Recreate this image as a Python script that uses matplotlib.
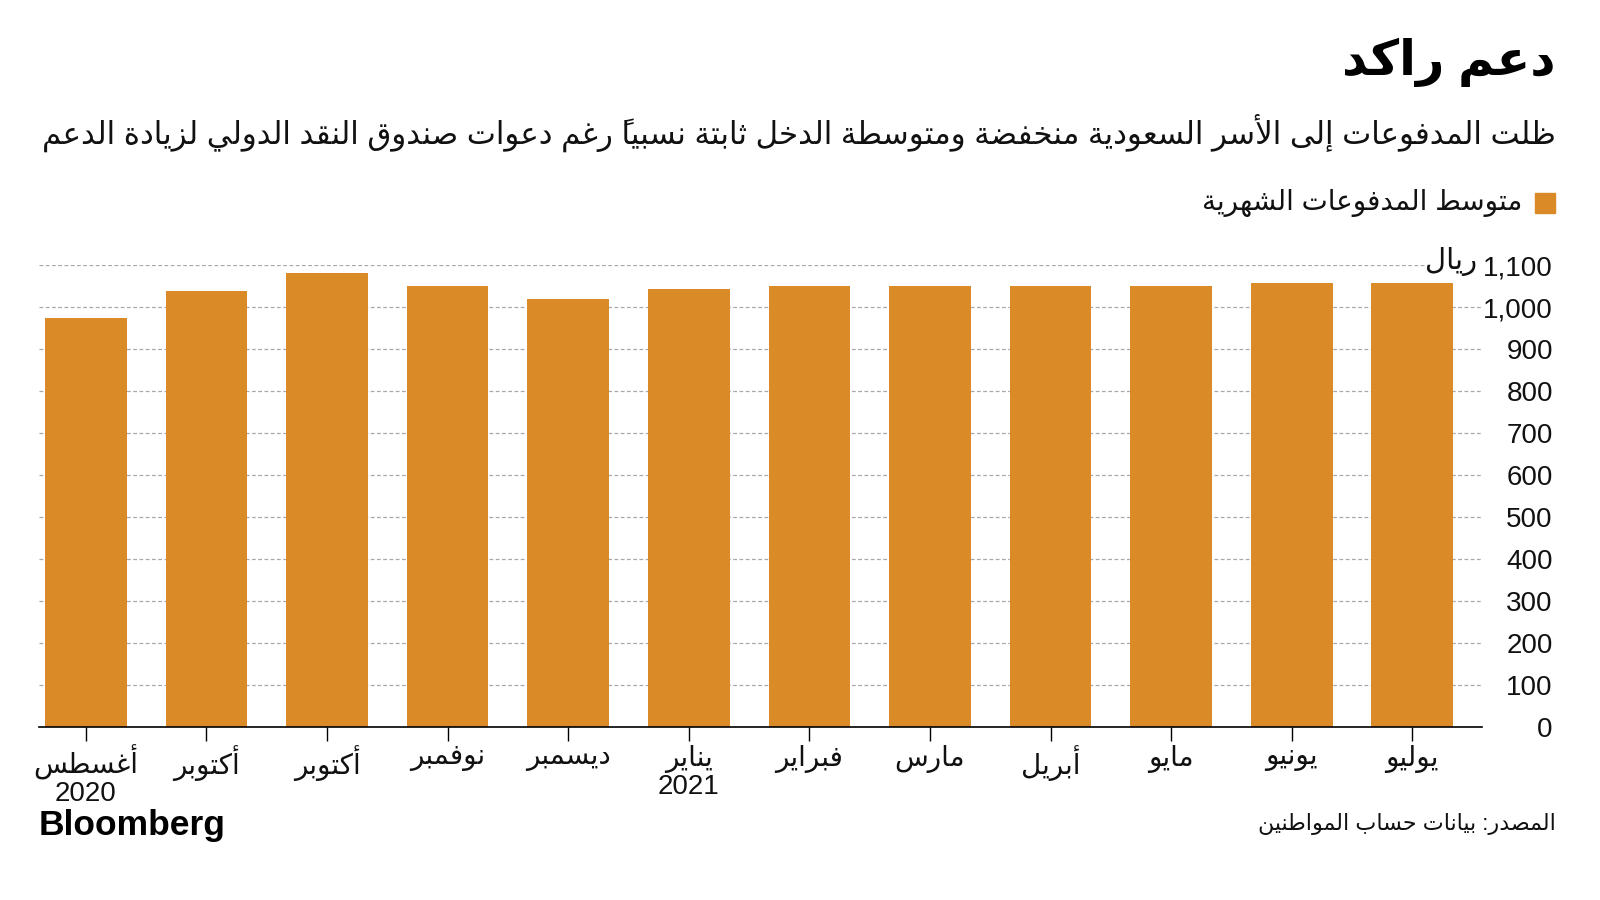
import matplotlib
matplotlib.use("Agg")
import matplotlib.pyplot as plt

# chart data
months = ['أغسطس\n2020', 'أكتوبر', 'أكتوبر', 'نوفمبر', 'ديسمبر', 'يناير\n2021',
          'فبراير', 'مارس', 'أبريل', 'مايو', 'يونيو', 'يوليو']
payments = [973, 1039, 1081, 1049, 1020, 1042, 1049, 1049, 1049, 1049, 1057, 1057]
yticks = [0, 100, 200, 300, 400, 500, 600, 700, 800, 900, 1000, 1100]

title = 'دعم راكد'
subtitle = 'ظلت المدفوعات إلى الأسر السعودية منخفضة ومتوسطة الدخل ثابتة نسبياً رغم دعوات صندوق النقد الدولي لزيادة الدعم'
legend_label = 'متوسط المدفوعات الشهرية'
unit = 'ريال'
source = 'المصدر: بيانات حساب المواطنين'

ORANGE = '#DA8A26'

# matplotlib has no arabic shaping, so map letters to presentation forms
# and reverse for right-to-left display
letters = 'ءآأؤإئابةتثجحخدذرزسشصضطظعغفقكلمنهوىي'
nforms = [1, 2, 2, 2, 2, 4, 2, 4, 2, 4, 4, 4, 4, 4, 2, 2, 2, 2,
          4, 4, 4, 4, 4, 4, 4, 4, 4, 4, 4, 4, 4, 4, 4, 2, 2, 4]
AR_FORMS = {}
code = 0xFE80
for ch, n in zip(letters, nforms):
    AR_FORMS[ch] = [chr(code + k) for k in range(n)]
    code += n
LAM_ALEF = {'آ': 0xFEF5, 'أ': 0xFEF7, 'إ': 0xFEF9, 'ا': 0xFEFB}


def is_mark(c):
    return '\u064b' <= c <= '\u0652'


def shape_line(s):
    if not any(c in AR_FORMS for c in s):
        return s
    out = []
    prev_dual = False
    i = 0
    while i < len(s):
        c = s[i]
        if is_mark(c) and out:
            # the mark glyph sits to the right of its origin
            out[-1] = c + out[-1]
            i += 1
            continue
        if c not in AR_FORMS:
            out.append(c)
            prev_dual = False
            i += 1
            continue
        j = i + 1
        while j < len(s) and is_mark(s[j]):
            j += 1
        nxt = s[j] if j < len(s) else ''
        f = AR_FORMS[c]
        if c == 'ل' and nxt in LAM_ALEF:
            out.append(chr(LAM_ALEF[nxt] + (1 if prev_dual else 0)))
            prev_dual = False
            i = j + 1
            continue
        joins_next = len(f) == 4 and nxt in AR_FORMS and nxt != 'ء'
        if len(f) == 4:
            k = [[0, 2], [1, 3]][prev_dual][joins_next]
        elif len(f) == 2:
            k = 1 if prev_dual else 0
        else:
            k = 0
        out.append(f[k])
        prev_dual = len(f) == 4
        i += 1
    return ''.join(reversed(out))


def ar(s):
    return '\n'.join(shape_line(l) for l in s.split('\n'))


plt.rcParams['font.family'] = ['Liberation Sans', 'DejaVu Sans']

W, H = 1600, 900
fig = plt.figure(figsize=(16, 9), dpi=100)
fig.patch.set_facecolor('white')

ax = fig.add_axes([39 / W, 1 - 727 / H, (1482 - 39) / W, (727 - 265) / H])
x = list(range(len(months)))
ax.bar(x, payments, width=0.677, color=ORANGE, zorder=3)
ax.set_xlim(-0.389, 11.578)
ax.set_ylim(0, 1100)

for v in yticks[1:]:
    ax.axhline(v, xmax=0.962 if v == 1100 else 1, color='#a8a8a8',
               lw=0.9, ls=(0, (3, 2)), zorder=1)

for s in ['top', 'left', 'right']:
    ax.spines[s].set_visible(False)
ax.spines['bottom'].set_color('black')
ax.spines['bottom'].set_linewidth(1.2)
ax.spines['bottom'].set_zorder(4)

ax.set_xticks(x, [ar(m) for m in months])
ax.tick_params(axis='x', length=10, width=1, color='black', pad=3,
               labelsize=20, labelcolor='#111111')
for lbl in ax.get_xticklabels():
    lbl.set_linespacing(1.05)

ax.yaxis.tick_right()
ax.set_yticks(yticks, [f'{v:,}' for v in yticks])
ax.tick_params(axis='y', length=0, pad=51, labelsize=20, labelcolor='#111111')
for lbl in ax.get_yticklabels():
    lbl.set_horizontalalignment('right')

fig.text(1477 / W, 1 - 262 / H, ar(unit), ha='right', va='center',
         fontsize=21, color='#111111')

fig.text(1556 / W, 1 - 62 / H, ar(title), ha='right', va='center',
         fontsize=35.5, fontweight='bold', color='black')
fig.text(1556 / W, 1 - 133 / H, ar(subtitle), ha='right', va='center',
         fontsize=22.2, color='#111111')

fig.patches.append(plt.Rectangle((1535 / W, 1 - 213 / H), 20 / W, 20 / H,
                                 transform=fig.transFigure, color=ORANGE))
fig.text(1522 / W, 1 - 203 / H, ar(legend_label), ha='right', va='center',
         fontsize=20, color='#111111')

fig.text(39 / W, 1 - 826 / H, 'Bloomberg', ha='left', va='center',
         fontsize=25.5, fontweight='bold', color='black')
fig.text(1556 / W, 1 - 824 / H, ar(source), ha='right', va='center',
         fontsize=16, color='#111111')

fig.savefig('out.png', dpi=100)
